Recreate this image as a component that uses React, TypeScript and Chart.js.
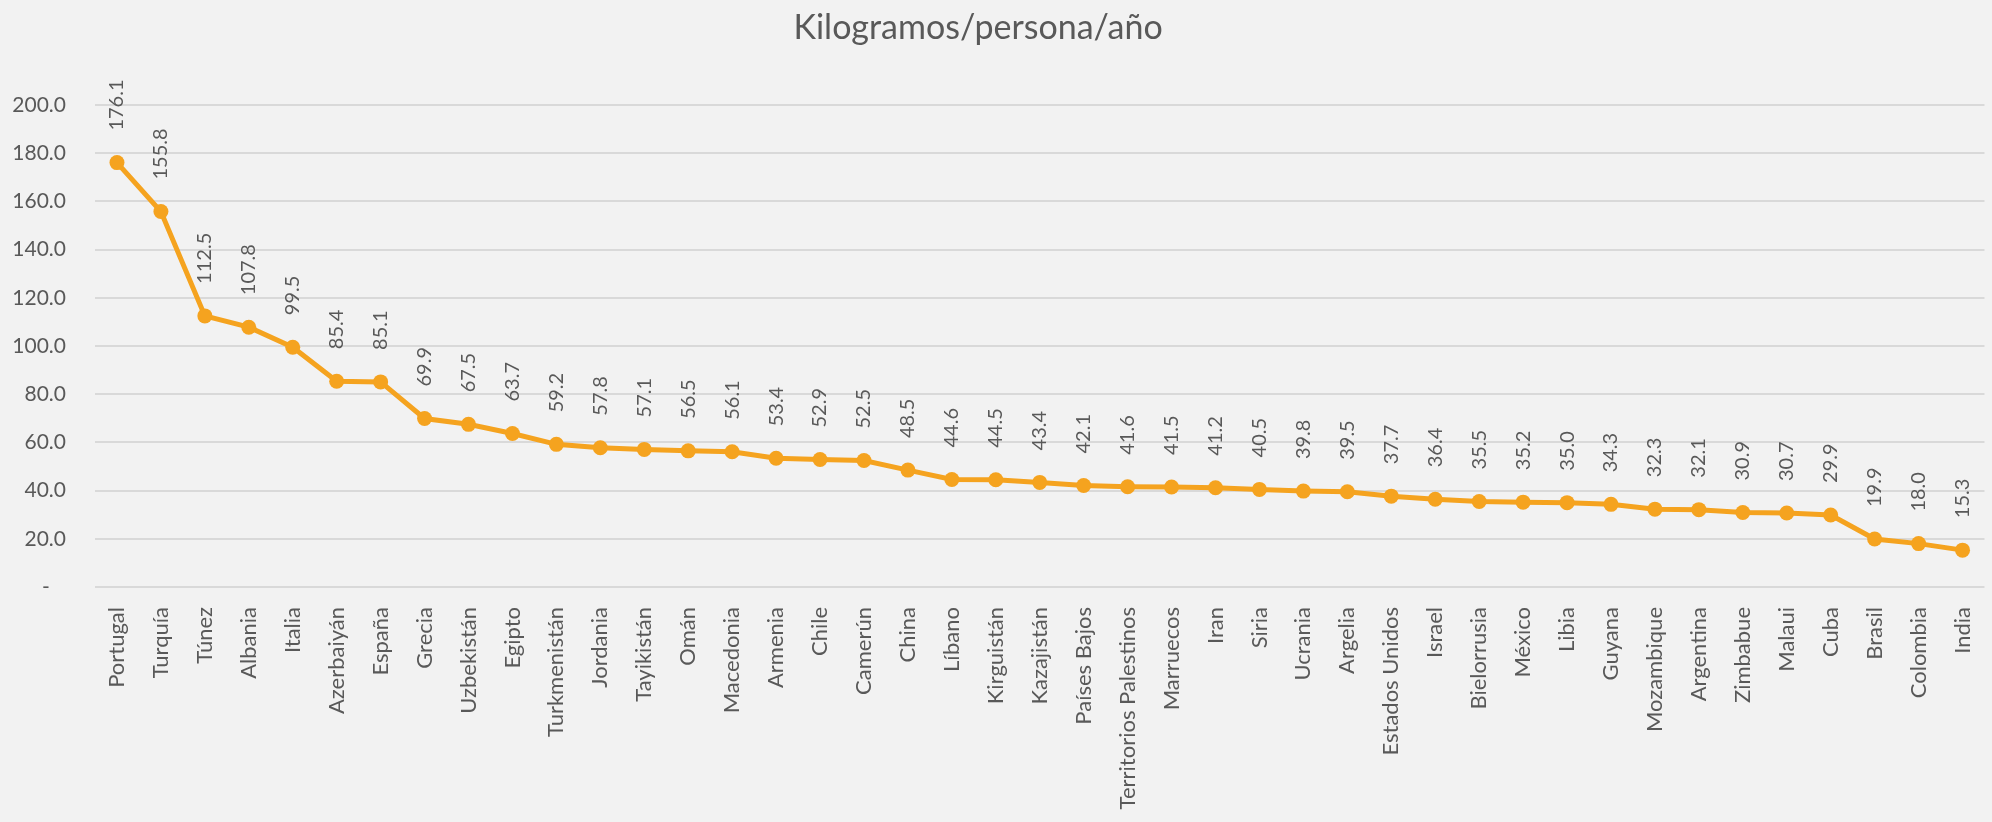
import React, { useEffect, useRef } from "react";
import { Chart, registerables } from "chart.js";

Chart.register(...registerables);

const categories: string[] = [
  "Portugal", "Turquía", "Túnez", "Albania", "Italia", "Azerbaiyán", "España", "Grecia",
  "Uzbekistán", "Egipto", "Turkmenistán", "Jordania", "Tayikistán", "Omán", "Macedonia",
  "Armenia", "Chile", "Camerún", "China", "Líbano", "Kirguistán", "Kazajistán", "Países Bajos",
  "Territorios Palestinos", "Marruecos", "Iran", "Siria", "Ucrania", "Argelia", "Estados Unidos",
  "Israel", "Bielorrusia", "México", "Libia", "Guyana", "Mozambique", "Argentina", "Zimbabue",
  "Malaui", "Cuba", "Brasil", "Colombia", "India",
];

const values: number[] = [
  176.1, 155.8, 112.5, 107.8, 99.5, 85.4, 85.1, 69.9,
  67.5, 63.7, 59.2, 57.8, 57.1, 56.5, 56.1,
  53.4, 52.9, 52.5, 48.5, 44.6, 44.5, 43.4, 42.1,
  41.6, 41.5, 41.2, 40.5, 39.8, 39.5, 37.7,
  36.4, 35.5, 35.2, 35.0, 34.3, 32.3, 32.1, 30.9,
  30.7, 29.9, 19.9, 18.0, 15.3,
];

const titleText = "Kilogramos/persona/año";
const yMin = 0;
const yMax = 200;
const yStep = 20;

const FONT = "Lato, 'Open Sans', sans-serif";
const TEXT = "#595959";
const ORANGE = "#F5A31F";
const GRID = "#D9D9D9";
const BG = "#F2F2F2";

const bgPlugin = {
  id: "bg",
  beforeDraw(chart: any) {
    const { ctx, width, height } = chart;
    ctx.save();
    ctx.fillStyle = BG;
    ctx.fillRect(0, 0, width, height);
    ctx.restore();
  },
};

const titlePlugin = {
  id: "customTitle",
  afterDraw(chart: any) {
    const { ctx, width } = chart;
    ctx.save();
    ctx.fillStyle = TEXT;
    ctx.font = `34px ${FONT}`;
    ctx.textAlign = "center";
    ctx.textBaseline = "alphabetic";
    ctx.fillText(titleText, width * 0.491, 39);
    ctx.restore();
  },
};

const labelPlugin = {
  id: "rotLabels",
  afterDatasetsDraw(chart: any) {
    const { ctx } = chart;
    const meta = chart.getDatasetMeta(0);
    ctx.save();
    ctx.fillStyle = TEXT;
    ctx.font = `20px ${FONT}`;
    ctx.textAlign = "left";
    ctx.textBaseline = "middle";
    meta.data.forEach((pt: any, i: number) => {
      const v = chart.data.datasets[0].data[i] as number;
      ctx.save();
      ctx.translate(pt.x, pt.y - 32);
      ctx.rotate(-Math.PI / 2);
      ctx.fillText(v.toFixed(1), 0, 0);
      ctx.restore();
    });
    ctx.restore();
  },
};

export default function App() {
  const ref = useRef<HTMLCanvasElement | null>(null);

  useEffect(() => {
    if (!ref.current) return;
    const chart = new Chart(ref.current, {
      type: "line",
      data: {
        labels: categories,
        datasets: [
          {
            data: values,
            borderColor: ORANGE,
            backgroundColor: ORANGE,
            borderWidth: 5,
            pointRadius: 7.5,
            pointHoverRadius: 7.5,
            pointBackgroundColor: ORANGE,
            pointBorderColor: ORANGE,
            pointBorderWidth: 0,
            tension: 0,
            fill: false,
          },
        ],
      },
      options: {
        responsive: false,
        animation: false,
        devicePixelRatio: 1,
        layout: { padding: { top: 105, left: 10, right: 0, bottom: 0 } },
        plugins: {
          legend: { display: false },
          title: { display: false },
          tooltip: { enabled: false },
        },
        scales: {
          x: {
            offset: true,
            grid: { display: false, drawTicks: false },
            border: { display: false },
            ticks: {
              color: TEXT,
              font: { family: FONT, size: 22 },
              minRotation: 90,
              maxRotation: 90,
              autoSkip: false,
              padding: 20,
            },
            afterFit(scale: any) {
              scale.height = 235;
              scale.paddingLeft = 0;
              scale.paddingRight = 0;
            },
          },
          y: {
            min: yMin,
            max: yMax,
            grid: { color: GRID, lineWidth: 2, drawTicks: false },
            border: { display: false },
            ticks: {
              stepSize: yStep,
              color: TEXT,
              font: { family: FONT, size: 21 },
              padding: 29,
              callback: (v: any) => (Number(v) === 0 ? "-   " : Number(v).toFixed(1)),
            },
            afterFit(scale: any) {
              scale.width = 85;
            },
          },
        },
      },
      plugins: [bgPlugin, titlePlugin, labelPlugin],
    });
    return () => chart.destroy();
  }, []);

  return (
    <div style={{ position: "fixed", left: 0, top: 0, width: 1992, height: 822, background: BG }}>
      <canvas ref={ref} width={1992} height={822} style={{ display: "block" }} />
    </div>
  );
}
